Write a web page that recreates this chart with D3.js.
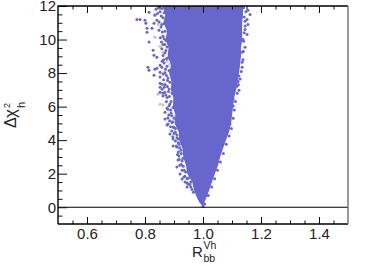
<!DOCTYPE html>
<html>
<head>
<meta charset="utf-8">
<script src="https://cdn.jsdelivr.net/npm/d3@7"></script>
<style>
  body { margin: 0; background: #fff; }
  text { font-family: "Liberation Sans", sans-serif; fill: #222; }
</style>
</head>
<body>
<div id="chart"></div>
<script>
// tick values and labels
var xMajor = [0.6, 0.8, 1.0, 1.2, 1.4];
var xMinor = [0.55, 0.65, 0.7, 0.75, 0.85, 0.9, 0.95, 1.05, 1.1, 1.15, 1.25, 1.3, 1.35, 1.45];
var yMajor = [0, 2, 4, 6, 8, 10, 12];
var yMinor = [-0.5, 0.5, 1, 1.5, 2.5, 3, 3.5, 4.5, 5, 5.5, 6.5, 7, 7.5, 8.5, 9, 9.5, 10.5, 11, 11.5];

// solid part of the cloud, read row by row: chi2, left edge, right edge
var coreChi = [12, 11.5, 11, 10.5, 10, 9.5, 9, 8.5, 8, 7.5, 7, 6.5, 6, 5.5, 5, 4.5, 4, 3.5, 3, 2.5, 2, 1.5, 1, 0.5, 0.25, 0.05];
var coreLeft = [.860, .870, .864, .876, .871, .881, .878, .890, .883, .891, .889, .898, .896, .905, .902, .916, .918, .929, .932, .941, .946, .963, .969, .981, .989, 1.0];
var coreRight = [1.138, 1.138, 1.135, 1.135, 1.135, 1.131, 1.131, 1.128, 1.124, 1.121, 1.114, 1.107, 1.104, 1.100, 1.097, 1.090, 1.079, 1.069, 1.059, 1.052, 1.041, 1.031, 1.021, 1.010, 1.004, 1.0];

// separate points around the edges of the cloud
var edgeLeft = [
  [.772,11.2],[.783,11.2],[.8,11.15],[.803,10.97],[.807,10.67],[.807,10.43],[.814,11.63],[.814,9.85],
  [.831,10.97],[.824,10.67],[.841,11.15],[.834,11.45],[.828,9.36],[.831,9.06],[.841,8.95],[.81,8.35],
  [.814,8.17],[.841,8.29],[.852,8.47],[.852,7.4],[.859,7.04],[.862,6.8],[.869,5.67],[.879,5.32],
  [.876,4.9],[.831,7.87],[.834,8.23],[.852,8.05],[.852,7.76],[.859,8.71],[.859,7.34],[.852,6.86],
  [.862,6.63],[.852,7.16],[.876,5.91],[.869,5.26],[.879,4.96],[.897,4.78],[.886,4.36],[.897,4.07],
  [.897,3.65],[.91,3.59],[.914,4.07],[.91,2.4],[.921,1.98],[.928,1.68],[.938,1.51],[.945,1.21],
  [.917,3.05],[.914,2.82],[.948,1.39],
  [.845,11.9],[.859,11.85],[.866,11.6],[.852,11.65],[.838,11.8],[.862,11.3],[.866,10.95],[.855,10.75],
  [.869,10.5],[.862,10.2],[.872,9.95],[.862,9.7],[.876,9.55],[.869,9.2],[.879,8.9],[.866,8.6],
  [.876,8.4],[.883,8.15],[.869,8.0],[.879,7.7],[.886,7.45],[.869,7.3],[.883,7.05],[.893,6.8],
  [.876,6.55],[.89,6.3],[.897,5.95],[.883,6.05],[.89,5.6],[.9,5.3],[.893,5.05],[.905,4.7],
  [.9,4.4],[.91,4.15],[.918,3.75],[.924,3.4],[.915,3.3],[.93,2.9],[.925,2.55],[.935,2.2],
  [.938,1.85],[.945,1.7],[.955,1.35],[.962,1.05]
];
var edgeInner = [
  [.85,11.95],[.843,11.55],[.856,11.4],[.849,11.05],[.858,10.9],[.848,10.55],[.86,10.45],[.853,10.1],
  [.866,10.05],[.857,9.85],[.868,9.7],[.858,9.45],[.872,9.35],[.862,9.05],[.874,8.85],[.864,8.8],
  [.858,8.35],[.871,8.25],[.862,7.95],[.874,7.85],[.864,7.6],[.878,7.55],[.866,7.15],[.877,7.2],
  [.868,6.85],[.881,6.9],[.872,6.7],[.884,6.6],[.874,6.3],[.886,6.15],[.878,5.85],[.889,5.8],
  [.882,5.5],[.892,5.45],[.885,5.15],[.896,5.1],[.888,4.8],[.9,4.75],[.892,4.55],[.905,4.45],
  [.896,4.2],[.91,4.3],[.905,3.95],[.915,3.85],[.908,3.65],[.92,3.55],[.912,3.15],[.925,3.2],
  [.918,2.85],[.928,2.75],[.92,2.5],[.932,2.45],[.928,2.2],[.94,2.1],[.934,1.8],[.95,1.75],
  [.945,1.45],[.958,1.5],[.958,1.2],[.967,.9]
];
var edgeRight = [
  [1.155,11.74],[1.162,11.5],[1.152,11.2],[1.155,10.9],[1.145,10.6],[1.152,10.3],[1.138,10.0],[1.145,9.54],
  [1.135,9.24],[1.135,8.65],[1.135,8.35],[1.145,11.09],[1.124,7.82],[1.121,7.5],[1.124,6.98],[1.117,7.22],
  [1.104,6.45],[1.104,6.03],[1.093,4.96],[1.086,4.9],
  [1.14,11.9],[1.148,11.65],[1.142,11.35],[1.145,10.8],[1.142,10.4],[1.14,9.9],[1.139,9.3],[1.138,8.8],
  [1.132,8.1],[1.128,7.65],[1.122,7.3],[1.118,6.8],[1.112,6.3],[1.108,5.8],[1.104,5.3],[1.098,4.7],
  [1.09,4.25],[1.08,3.75],[1.07,3.2],[1.06,2.7],[1.05,2.2],[1.04,1.7],[1.03,1.2],[1.018,.7],[1.006,.2],[1.0,.06]
];
// pale points that show through on the left side
var greyPoints = [
  [.834,11.5],[.845,10.9],[.834,10.14],[.852,9.6],[.862,9.24],[.876,8.71],[.869,8.11],[.886,8.53],
  [.852,6.14],[.845,6.74],[.903,5.43],[.903,4.54],[.914,3.59],[.869,7.34],[.862,6.09],[.886,5.79]
];

var blue = "#6666cc";
var width = 366, height = 267;
var margin = {top: 6, right: 18, bottom: 43, left: 58};

var x = d3.scaleLinear().domain([0.5, 1.5]).range([margin.left, width - margin.right]);
var y = d3.scaleLinear().domain([-1, 12]).range([height - margin.bottom, margin.top]);

var svg = d3.select("#chart").append("svg")
    .attr("width", width)
    .attr("height", height)
    .style("display", "block");

svg.append("clipPath").attr("id", "frame")
  .append("rect")
    .attr("x", margin.left)
    .attr("y", margin.top)
    .attr("width", width - margin.left - margin.right)
    .attr("height", height - margin.top - margin.bottom);

var plot = svg.append("g").attr("clip-path", "url(#frame)");

plot.selectAll(".grey")
    .data(greyPoints)
  .enter().append("circle")
    .attr("class", "grey")
    .attr("cx", function(d) { return x(d[0]); })
    .attr("cy", function(d) { return y(d[1]); })
    .attr("r", 1.6)
    .attr("fill", "#c8c8c8");

var core = d3.area()
    .y(function(d) { return y(d); })
    .x0(function(d, i) { return x(coreLeft[i]); })
    .x1(function(d, i) { return x(coreRight[i]); });

plot.append("path")
    .attr("d", core(coreChi))
    .attr("fill", blue);

plot.selectAll(".pt")
    .data(edgeLeft.concat(edgeInner, edgeRight))
  .enter().append("circle")
    .attr("class", "pt")
    .attr("cx", function(d) { return x(d[0]); })
    .attr("cy", function(d) { return y(d[1]); })
    .attr("r", 1.5)
    .attr("fill", blue);

// line at zero
svg.append("line")
    .attr("x1", x(0.5))
    .attr("x2", x(1.5))
    .attr("y1", y(0))
    .attr("y2", y(0))
    .attr("stroke", "#000")
    .attr("stroke-width", 1.2);

// axes
function styleAxis(g, size) {
  g.select(".domain").remove();
  g.selectAll("line").attr("stroke", "#111").attr("stroke-width", 1);
  g.selectAll("text").attr("font-size", size);
}

svg.append("g")
    .attr("transform", "translate(0," + y(-1) + ")")
    .call(d3.axisBottom(x).tickValues(xMajor).tickSize(-7).tickPadding(6).tickFormat(d3.format(".1f")))
    .call(styleAxis, 15)
    .selectAll("text").attr("dy", "0.6em");
svg.append("g")
    .attr("transform", "translate(0," + y(-1) + ")")
    .call(d3.axisBottom(x).tickValues(xMinor).tickSize(-3.5).tickFormat(""))
    .call(styleAxis, 15);

svg.append("g")
    .attr("transform", "translate(0," + y(12) + ")")
    .call(d3.axisTop(x).tickValues(xMajor).tickSize(-7).tickFormat(""))
    .call(styleAxis, 15);
svg.append("g")
    .attr("transform", "translate(0," + y(12) + ")")
    .call(d3.axisTop(x).tickValues(xMinor).tickSize(-3.5).tickFormat(""))
    .call(styleAxis, 15);

svg.append("g")
    .attr("transform", "translate(" + x(0.5) + ",0)")
    .call(d3.axisLeft(y).tickValues(yMajor).tickSize(-9).tickPadding(3))
    .call(styleAxis, 15)
    .selectAll("text").attr("x", -2);
svg.append("g")
    .attr("transform", "translate(" + x(0.5) + ",0)")
    .call(d3.axisLeft(y).tickValues(yMinor).tickSize(-4.5).tickFormat(""))
    .call(styleAxis, 15);

// frame
svg.append("path")
    .attr("d", "M" + x(0.5) + "," + y(-1) + "V" + y(12) + "H" + x(1.5))
    .attr("fill", "none")
    .attr("stroke", "#000")
    .attr("stroke-width", 1.4);
svg.append("path")
    .attr("d", "M" + x(0.5) + "," + y(-1) + "H" + x(1.5))
    .attr("stroke", "#000")
    .attr("stroke-width", 1.4);
svg.append("path")
    .attr("d", "M" + x(1.5) + "," + y(-1) + "V" + y(12))
    .attr("stroke", "#777")
    .attr("stroke-width", 1.5);

// x title
var xTitle = svg.append("g").attr("transform", "translate(192,257)");
xTitle.append("text").attr("font-size", 15).text("R");
xTitle.append("text").attr("x", 11.5).attr("y", -8).attr("font-size", 10.5).text("Vh");
xTitle.append("text").attr("x", 11.5).attr("y", 5).attr("font-size", 10.5).text("bb");

// y title
var yTitle = svg.append("g").attr("transform", "translate(16,128) rotate(-90)");
yTitle.append("text").attr("font-size", 16).text("Δ");
yTitle.append("text").attr("x", 10).attr("font-size", 17).text("χ");
yTitle.append("text").attr("x", 20).attr("y", -6).attr("font-size", 9).text("2");
yTitle.append("text").attr("x", 20).attr("y", 9).attr("font-size", 11).text("h");
</script>
</body>
</html>
